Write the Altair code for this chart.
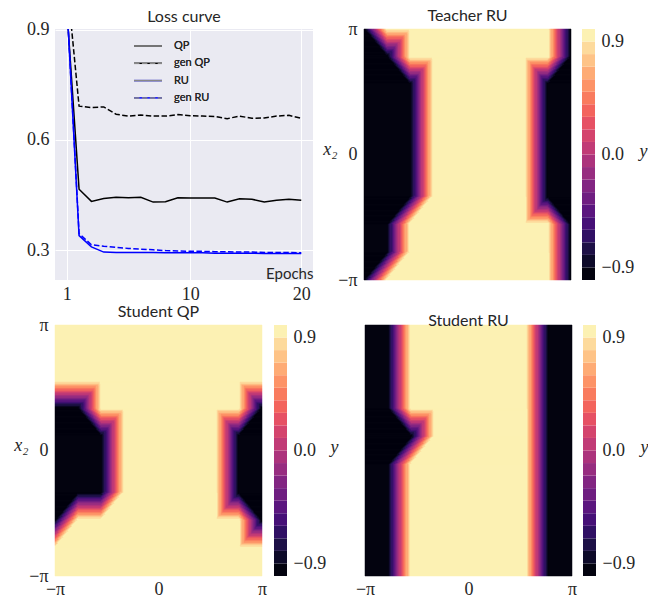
import math
import numpy as np
import pandas as pd
import altair as alt

alt.data_transformers.disable_max_rows()
PI = math.pi

# ---------------- Loss curve data ----------------
epochs = list(range(1, 21))
loss_qp = [0.96, 0.466, 0.433, 0.441, 0.444, 0.443, 0.444, 0.431, 0.432, 0.443,
           0.442, 0.442, 0.442, 0.431, 0.440, 0.439, 0.431, 0.436, 0.439, 0.436]
loss_gen_qp = [1.04, 0.692, 0.688, 0.690, 0.670, 0.665, 0.668, 0.665, 0.665, 0.669,
               0.666, 0.665, 0.664, 0.658, 0.665, 0.659, 0.660, 0.665, 0.667, 0.659]
loss_ru = [0.98, 0.340, 0.309, 0.295, 0.294, 0.294, 0.294, 0.294, 0.293, 0.293,
           0.293, 0.293, 0.292, 0.292, 0.292, 0.292, 0.291, 0.291, 0.291, 0.291]
loss_gen_ru = [0.98, 0.345, 0.315, 0.311, 0.308, 0.305, 0.303, 0.301, 0.299, 0.298,
               0.297, 0.297, 0.296, 0.296, 0.295, 0.295, 0.294, 0.294, 0.294, 0.293]
series_names = ["QP", "gen QP", "RU", "gen RU"]
series_colors = ["black", "black", "blue", "blue"]
series_dash = [[1000, 0], [5.5, 2.4], [1000, 0], [5.5, 2.4]]
x_tick_pos = [1, 11, 20]
y_ticks = [0.3, 0.6, 0.9]

# ---------------- Decision-map grids (rows top x2=pi -> bottom x2=-pi) ----------------
teacher_ru = [
    [-1,  1,  1, 1, 1, 1, 1, 1,  1, -1],
    [-1, -1,  1, 1, 1, 1, 1, 1,  1, -1],
    [-1, -1, -1, 1, 1, 1, 1, 1, -1, -1],
    [-1, -1, -1, 1, 1, 1, 1, 1, -1, -1],
    [-1, -1, -1, 1, 1, 1, 1, 1, -1, -1],
    [-1, -1, -1, 1, 1, 1, 1, 1, -1, -1],
    [-1, -1, -1, 1, 1, 1, 1, 1, -1, -1],
    [-1, -1,  1, 1, 1, 1, 1, 1,  1, -1],
    [-1, -1,  1, 1, 1, 1, 1, 1,  1, -1],
    [-1,  1,  1, 1, 1, 1, 1, 1,  1, -1],
]
student_qp = [
    [ 1,  1,  1, 1, 1, 1, 1, 1,  1,  1],
    [ 1,  1,  1, 1, 1, 1, 1, 1,  1,  1],
    [ 1,  1,  1, 1, 1, 1, 1, 1,  1,  1],
    [-1, -1,  1, 1, 1, 1, 1, 1,  1, -1],
    [-1, -1, -1, 1, 1, 1, 1, 1, -1, -1],
    [-1, -1, -1, 1, 1, 1, 1, 1, -1, -1],
    [-1, -1, -1, 1, 1, 1, 1, 1, -1, -1],
    [-1,  1,  1, 1, 1, 1, 1, 1,  1, -1],
    [ 1,  1,  1, 1, 1, 1, 1, 1,  1,  1],
    [ 1,  1,  1, 1, 1, 1, 1, 1,  1,  1],
]
student_ru = [
    [-1, -1,  1, 1, 1, 1, 1, 1, -1, -1],
    [-1, -1,  1, 1, 1, 1, 1, 1, -1, -1],
    [-1, -1,  1, 1, 1, 1, 1, 1, -1, -1],
    [-1, -1,  1, 1, 1, 1, 1, 1, -1, -1],
    [-1, -1, -1, 1, 1, 1, 1, 1, -1, -1],
    [-1, -1,  1, 1, 1, 1, 1, 1, -1, -1],
    [-1, -1,  1, 1, 1, 1, 1, 1, -1, -1],
    [-1, -1,  1, 1, 1, 1, 1, 1, -1, -1],
    [-1, -1,  1, 1, 1, 1, 1, 1, -1, -1],
    [-1, -1,  1, 1, 1, 1, 1, 1, -1, -1],
]
contour_levels = list(np.round(np.linspace(-1, 1, 21), 2))
cbar_ticks = [-0.9, 0.0, 0.9]


def contour_rects(grid, nx=207, ny=251):
    """Filled-contour rendering (linear on triangles, like marching squares)."""
    G = np.array(grid, dtype=float)
    n = G.shape[0] - 1
    m = G.shape[1] - 1
    nlev = len(contour_levels) - 1
    lo = contour_levels[0]
    step = (contour_levels[-1] - contour_levels[0]) / nlev
    rects = []
    active = {}
    for r in range(ny):
        yt = (r + 0.5) / ny * n
        i = min(int(yt), n - 1)
        v = yt - i
        levels = []
        for c in range(nx):
            xt = (c + 0.5) / nx * m
            j = min(int(xt), m - 1)
            u = xt - j
            a, b = G[i, j], G[i, j + 1]
            cc, d = G[i + 1, j], G[i + 1, j + 1]
            pos = (a > 0) + (b > 0) + (cc > 0) + (d > 0)
            odd = None
            if pos in (1, 3):
                maj = 1.0 if pos == 3 else -1.0
                for name, val in (("a", a), ("b", b), ("c", cc), ("d", d)):
                    if val != maj:
                        odd = name
            if odd in ("a", "d"):
                if u + v <= 1:
                    f = a + (b - a) * u + (cc - a) * v
                else:
                    f = d + (cc - d) * (1 - u) + (b - d) * (1 - v)
            elif odd in ("b", "c"):
                if u >= v:
                    f = a + (b - a) * u + (d - b) * v
                else:
                    f = a + (d - cc) * u + (cc - a) * v
            else:
                f = (a * (1 - u) * (1 - v) + b * u * (1 - v)
                     + cc * (1 - u) * v + d * u * v)
            k = int(math.floor((f - lo) / step + 1e-9))
            levels.append(min(max(k, 0), nlev - 1))
        runs = []
        s = 0
        for c in range(1, nx + 1):
            if c == nx or levels[c] != levels[s]:
                runs.append((s, c, levels[s]))
                s = c
        new_active = {}
        for key in runs:
            if key in active:
                idx = active[key]
                rects[idx][3] = r + 1
            else:
                idx = len(rects)
                rects.append([key[0], key[1], r, r + 1, key[2]])
            new_active[key] = idx
        active = new_active
    dx = 2 * PI / nx
    dy = 2 * PI / ny
    out = pd.DataFrame(rects, columns=["c0", "c1", "r0", "r1", "k"])
    return pd.DataFrame({
        "x0": -PI + out["c0"] * dx,
        "x1": -PI + out["c1"] * dx,
        "ya": PI - out["r0"] * dy,
        "yb": PI - out["r1"] * dy,
        "v": lo + (out["k"] + 0.5) * step,
    })


SERIF = "Liberation Serif"
SANS = "Lato"
TXT = "#262626"
PI_EXPR = "datum.value < -1 ? '\u2212\u03c0' : (datum.value > 1 ? '\u03c0' : '0')"
cscale = alt.Scale(scheme="magma", domain=[-1, 1])
HM_W, HM_H = 207, 251
X2_TITLE = dict(titleAngle=0, titleFont=SERIF, titleFontStyle="italic",
                titleFontWeight="normal", titleFontSize=18, titleColor=TXT,
                titleAlign="right", titleBaseline="alphabetic", titleX=-27, titleY=125)

# ---------------- Loss chart ----------------
rows = []
for name, vals in zip(series_names, [loss_qp, loss_gen_qp, loss_ru, loss_gen_ru]):
    for e, val in zip(epochs, vals):
        rows.append({"epoch": e, "loss": val, "series": name})
df_loss = pd.DataFrame(rows)

LEG_BASE = dict(title=None, orient="none", legendX=78, legendY=9,
                symbolType="M-1,0L3,0", symbolSize=196, symbolStrokeWidth=1.5,
                symbolOpacity=1, labelOffset=25, rowPadding=4.3, padding=0,
                labelFont=SANS, labelFontSize=11, labelColor=TXT)


def heat(grid, title, show_x, show_y):
    df = contour_rects(grid, HM_W, HM_H)
    xa = (alt.Axis(values=[-PI, 0, PI], labelExpr=PI_EXPR, title=None,
                   labelFlush=False, labelPadding=4) if show_x else None)
    ya = (alt.Axis(values=[-PI, 0, PI], labelExpr=PI_EXPR, labelFlush=False,
                   labelPadding=7, title="x\u2082", **X2_TITLE) if show_y else None)
    return alt.Chart(df, title=title).mark_rect(strokeWidth=0.5).encode(
        x=alt.X("x0:Q", scale=alt.Scale(domain=[-PI, PI], nice=False, zero=False), axis=xa),
        x2="x1:Q",
        y=alt.Y("ya:Q", scale=alt.Scale(domain=[-PI, PI], nice=False, zero=False), axis=ya),
        y2="yb:Q",
        color=alt.Color("v:Q", scale=cscale, legend=None),
        stroke=alt.Stroke("v:Q", scale=cscale, legend=None),
    ).properties(width=HM_W, height=HM_H)


def cbar(title_x):
    df = pd.DataFrame({"lo": contour_levels[:-1], "hi": contour_levels[1:]})
    df["mid"] = (df["lo"] + df["hi"]) / 2
    return alt.Chart(df).mark_rect().encode(
        x=alt.value(0), x2=alt.value("width"),
        y=alt.Y("lo:Q", scale=alt.Scale(domain=[-1, 1], nice=False, zero=False),
                axis=alt.Axis(orient="right", values=cbar_ticks, format=".1f",
                              labelPadding=6, title="y", titleAngle=0, titleFont=SERIF,
                              titleFontStyle="italic", titleFontWeight="normal",
                              titleFontSize=18, titleColor=TXT, titleAlign="left",
                              titleBaseline="alphabetic", titleX=title_x, titleY=127)),
        y2="hi:Q",
        color=alt.Color("mid:Q", scale=cscale, legend=None),
    ).properties(width=13, height=HM_H)


def build(single_legend):
    if single_legend:
        col_leg = alt.Legend(encode={"symbols": {"strokeDash": {
            "condition": {"test": "indexof(datum.value, 'gen') === 0",
                          "value": series_dash[1]},
            "value": series_dash[0]}}}, **LEG_BASE)
        dash_leg = None
    else:
        col_leg = alt.Legend(**LEG_BASE)
        dash_leg = alt.Legend(**LEG_BASE)
    loss = alt.Chart(df_loss, title="Loss curve").mark_line(strokeWidth=1.5, clip=True).encode(
        x=alt.X("epoch:Q", scale=alt.Scale(domain=[0.05, 20.95], nice=False, zero=False),
                axis=alt.Axis(values=x_tick_pos,
                              labelExpr="datum.value == 11 ? '10' : datum.label",
                              labelFlush=False, labelPadding=5, grid=True,
                              gridColor="white", gridWidth=1,
                              title="Epochs", titleFont=SANS, titleFontSize=15,
                              titleFontWeight="normal", titleColor=TXT,
                              titleAlign="right", titleBaseline="alphabetic",
                              titleAngle=0, titleX=258, titleY=-2)),
        y=alt.Y("loss:Q", scale=alt.Scale(domain=[0.219, 0.902], nice=False, zero=False),
                axis=alt.Axis(values=y_ticks, format=".1f", grid=True,
                              gridColor="white", gridWidth=1, labelPadding=6,
                              title="x\u2082", titleOpacity=0, **X2_TITLE)),
        color=alt.Color("series:N", scale=alt.Scale(domain=series_names, range=series_colors),
                        legend=col_leg),
        strokeDash=alt.StrokeDash("series:N",
                                  scale=alt.Scale(domain=series_names, range=series_dash),
                                  legend=dash_leg),
    ).properties(width=258, height=251,
                 view=alt.ViewBackground(fill="#EAEAF2", strokeWidth=0))

    teacher = heat(teacher_ru, "Teacher RU", False, True)
    sqp = heat(student_qp, "Student QP", True, True)
    sru = heat(student_ru, "Student RU", True, False)

    row1 = alt.hconcat(loss, alt.hconcat(teacher, cbar(44), spacing=10), spacing=9)
    row2 = alt.hconcat(alt.hconcat(sqp, cbar(43), spacing=7),
                       alt.hconcat(sru, cbar(44), spacing=6), spacing=17)

    return alt.vconcat(row1, row2, spacing=1).resolve_scale(
        x="independent", y="independent", color="independent", stroke="independent",
        strokeDash="independent"
    ).properties(
        padding={"left": 5, "top": 0, "right": 0, "bottom": 0}
    ).configure_view(strokeWidth=0).configure_axis(
        ticks=False, domain=False, grid=False, labelFont=SERIF, labelFontSize=18,
        labelColor=TXT
    ).configure_title(
        font=SANS, fontSize=16, fontWeight="normal", color=TXT, offset=-4,
        baseline="alphabetic"
    )


try:
    chart = build(True)
    chart.to_dict()
except Exception:
    chart = build(False)

chart.save("out.html", embed_options={"renderer": "svg", "actions": False})
